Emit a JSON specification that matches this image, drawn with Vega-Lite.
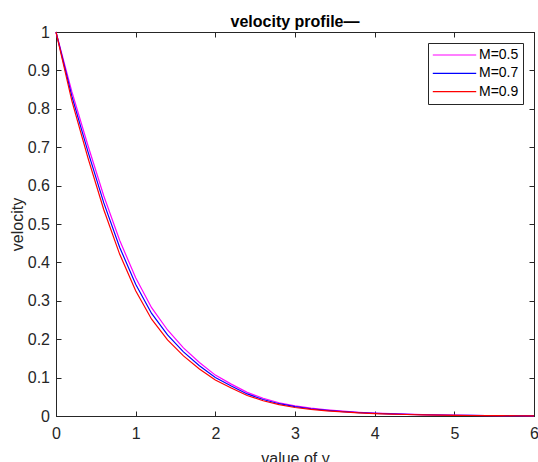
{
  "$schema": "https://vega.github.io/schema/vega-lite/v6.json",
  "width": 478,
  "height": 384,
  "autosize": {"type": "none"},
  "padding": {"left": 56, "top": 32, "right": 4, "bottom": 46},
  "background": "white",
  "config": {
    "font": "Liberation Sans",
    "view": {"stroke": "#262626", "strokeWidth": 1}
  },
  "title": {
    "text": "velocity profile—",
    "fontSize": 16,
    "fontWeight": "bold",
    "color": "#000000",
    "anchor": "middle",
    "baseline": "bottom",
    "offset": 2,
    "dy": 24
  },
  "data": {
    "values": [
      {"yval": 0.0, "velocity": 1.0, "series": "M=0.5"},
      {"yval": 0.2, "velocity": 0.844, "series": "M=0.5"},
      {"yval": 0.4, "velocity": 0.705, "series": "M=0.5"},
      {"yval": 0.6, "velocity": 0.573, "series": "M=0.5"},
      {"yval": 0.8, "velocity": 0.457, "series": "M=0.5"},
      {"yval": 1.0, "velocity": 0.36, "series": "M=0.5"},
      {"yval": 1.2, "velocity": 0.282, "series": "M=0.5"},
      {"yval": 1.4, "velocity": 0.224, "series": "M=0.5"},
      {"yval": 1.6, "velocity": 0.1775, "series": "M=0.5"},
      {"yval": 1.8, "velocity": 0.1395, "series": "M=0.5"},
      {"yval": 2.0, "velocity": 0.1065, "series": "M=0.5"},
      {"yval": 2.2, "velocity": 0.083, "series": "M=0.5"},
      {"yval": 2.4, "velocity": 0.0615, "series": "M=0.5"},
      {"yval": 2.6, "velocity": 0.0462, "series": "M=0.5"},
      {"yval": 2.8, "velocity": 0.0345, "series": "M=0.5"},
      {"yval": 3.0, "velocity": 0.0262, "series": "M=0.5"},
      {"yval": 3.2, "velocity": 0.0205, "series": "M=0.5"},
      {"yval": 3.4, "velocity": 0.0161, "series": "M=0.5"},
      {"yval": 3.6, "velocity": 0.0126, "series": "M=0.5"},
      {"yval": 3.8, "velocity": 0.0098, "series": "M=0.5"},
      {"yval": 4.0, "velocity": 0.0076, "series": "M=0.5"},
      {"yval": 4.2, "velocity": 0.006, "series": "M=0.5"},
      {"yval": 4.4, "velocity": 0.0047, "series": "M=0.5"},
      {"yval": 4.6, "velocity": 0.0036, "series": "M=0.5"},
      {"yval": 4.8, "velocity": 0.0029, "series": "M=0.5"},
      {"yval": 5.0, "velocity": 0.0022, "series": "M=0.5"},
      {"yval": 5.2, "velocity": 0.0017, "series": "M=0.5"},
      {"yval": 5.4, "velocity": 0.0013, "series": "M=0.5"},
      {"yval": 5.6, "velocity": 0.001, "series": "M=0.5"},
      {"yval": 5.8, "velocity": 0.0008, "series": "M=0.5"},
      {"yval": 6.0, "velocity": 0.0005, "series": "M=0.5"},
      {"yval": 0.0, "velocity": 1.0, "series": "M=0.7"},
      {"yval": 0.2, "velocity": 0.832, "series": "M=0.7"},
      {"yval": 0.4, "velocity": 0.689, "series": "M=0.7"},
      {"yval": 0.6, "velocity": 0.555, "series": "M=0.7"},
      {"yval": 0.8, "velocity": 0.439, "series": "M=0.7"},
      {"yval": 1.0, "velocity": 0.343, "series": "M=0.7"},
      {"yval": 1.2, "velocity": 0.267, "series": "M=0.7"},
      {"yval": 1.4, "velocity": 0.211, "series": "M=0.7"},
      {"yval": 1.6, "velocity": 0.167, "series": "M=0.7"},
      {"yval": 1.8, "velocity": 0.131, "series": "M=0.7"},
      {"yval": 2.0, "velocity": 0.1, "series": "M=0.7"},
      {"yval": 2.2, "velocity": 0.078, "series": "M=0.7"},
      {"yval": 2.4, "velocity": 0.0575, "series": "M=0.7"},
      {"yval": 2.6, "velocity": 0.043, "series": "M=0.7"},
      {"yval": 2.8, "velocity": 0.032, "series": "M=0.7"},
      {"yval": 3.0, "velocity": 0.0242, "series": "M=0.7"},
      {"yval": 3.2, "velocity": 0.0189, "series": "M=0.7"},
      {"yval": 3.4, "velocity": 0.0148, "series": "M=0.7"},
      {"yval": 3.6, "velocity": 0.0116, "series": "M=0.7"},
      {"yval": 3.8, "velocity": 0.009, "series": "M=0.7"},
      {"yval": 4.0, "velocity": 0.007, "series": "M=0.7"},
      {"yval": 4.2, "velocity": 0.0055, "series": "M=0.7"},
      {"yval": 4.4, "velocity": 0.0043, "series": "M=0.7"},
      {"yval": 4.6, "velocity": 0.0033, "series": "M=0.7"},
      {"yval": 4.8, "velocity": 0.0026, "series": "M=0.7"},
      {"yval": 5.0, "velocity": 0.002, "series": "M=0.7"},
      {"yval": 5.2, "velocity": 0.0015, "series": "M=0.7"},
      {"yval": 5.4, "velocity": 0.0012, "series": "M=0.7"},
      {"yval": 5.6, "velocity": 0.0009, "series": "M=0.7"},
      {"yval": 5.8, "velocity": 0.0007, "series": "M=0.7"},
      {"yval": 6.0, "velocity": 0.0005, "series": "M=0.7"},
      {"yval": 0.0, "velocity": 1.0, "series": "M=0.9"},
      {"yval": 0.2, "velocity": 0.82, "series": "M=0.9"},
      {"yval": 0.4, "velocity": 0.673, "series": "M=0.9"},
      {"yval": 0.6, "velocity": 0.537, "series": "M=0.9"},
      {"yval": 0.8, "velocity": 0.421, "series": "M=0.9"},
      {"yval": 1.0, "velocity": 0.326, "series": "M=0.9"},
      {"yval": 1.2, "velocity": 0.252, "series": "M=0.9"},
      {"yval": 1.4, "velocity": 0.198, "series": "M=0.9"},
      {"yval": 1.6, "velocity": 0.1565, "series": "M=0.9"},
      {"yval": 1.8, "velocity": 0.1225, "series": "M=0.9"},
      {"yval": 2.0, "velocity": 0.0935, "series": "M=0.9"},
      {"yval": 2.2, "velocity": 0.073, "series": "M=0.9"},
      {"yval": 2.4, "velocity": 0.0535, "series": "M=0.9"},
      {"yval": 2.6, "velocity": 0.0398, "series": "M=0.9"},
      {"yval": 2.8, "velocity": 0.0295, "series": "M=0.9"},
      {"yval": 3.0, "velocity": 0.0222, "series": "M=0.9"},
      {"yval": 3.2, "velocity": 0.0173, "series": "M=0.9"},
      {"yval": 3.4, "velocity": 0.0135, "series": "M=0.9"},
      {"yval": 3.6, "velocity": 0.0106, "series": "M=0.9"},
      {"yval": 3.8, "velocity": 0.0082, "series": "M=0.9"},
      {"yval": 4.0, "velocity": 0.0064, "series": "M=0.9"},
      {"yval": 4.2, "velocity": 0.005, "series": "M=0.9"},
      {"yval": 4.4, "velocity": 0.0039, "series": "M=0.9"},
      {"yval": 4.6, "velocity": 0.003, "series": "M=0.9"},
      {"yval": 4.8, "velocity": 0.0023, "series": "M=0.9"},
      {"yval": 5.0, "velocity": 0.0018, "series": "M=0.9"},
      {"yval": 5.2, "velocity": 0.0013, "series": "M=0.9"},
      {"yval": 5.4, "velocity": 0.0011, "series": "M=0.9"},
      {"yval": 5.6, "velocity": 0.0008, "series": "M=0.9"},
      {"yval": 5.8, "velocity": 0.0006, "series": "M=0.9"},
      {"yval": 6.0, "velocity": 0.0005, "series": "M=0.9"}
    ]
  },
  "layer": [
    {
      "mark": {"type": "line", "strokeWidth": 1.2},
      "encoding": {
        "x": {
          "field": "yval",
          "type": "quantitative",
          "scale": {"domain": [0, 6], "nice": false, "zero": false},
          "axis": {
            "orient": "bottom",
            "values": [0, 1, 2, 3, 4, 5, 6],
            "format": "d",
            "grid": false,
            "tickSize": -5,
            "tickColor": "#262626",
            "domainColor": "#262626",
            "labelFontSize": 16,
            "labelColor": "#262626",
            "labelPadding": 14.6,
            "labelFlush": false,
            "title": "value of y",
            "titleFontSize": 16,
            "titleFontWeight": "normal",
            "titleColor": "#262626",
            "titlePadding": 9
          }
        },
        "y": {
          "field": "velocity",
          "type": "quantitative",
          "scale": {"domain": [0, 1], "nice": false, "zero": false},
          "axis": {
            "orient": "left",
            "values": [0, 0.1, 0.2, 0.3, 0.4, 0.5, 0.6, 0.7, 0.8, 0.9, 1],
            "format": "~g",
            "grid": false,
            "tickSize": -5,
            "tickColor": "#262626",
            "domainColor": "#262626",
            "labelFontSize": 16,
            "labelColor": "#262626",
            "labelPadding": 11.5,
            "labelFlush": false,
            "title": "velocity",
            "titleFontSize": 16,
            "titleFontWeight": "normal",
            "titleColor": "#262626",
            "titlePadding": 2
          }
        },
        "color": {
          "field": "series",
          "type": "nominal",
          "scale": {
            "domain": ["M=0.5", "M=0.7", "M=0.9"],
            "range": ["#FF00FF", "#0000FF", "#FF0000"]
          },
          "legend": {
            "title": null,
            "orient": "top-right",
            "offset": 11,
            "symbolType": "stroke",
            "symbolSize": 1884,
            "symbolStrokeWidth": 1.2,
            "clipHeight": 16,
            "rowPadding": 2.3,
            "padding": 4,
            "labelOffset": 2,
            "labelFontSize": 14,
            "labelColor": "#000000",
            "strokeColor": "#262626",
            "fillColor": "#FFFFFF"
          }
        }
      }
    },
    {
      "mark": {"type": "line", "opacity": 0},
      "encoding": {
        "x": {
          "field": "yval",
          "type": "quantitative",
          "axis": {
            "orient": "top",
            "values": [0, 1, 2, 3, 4, 5, 6],
            "labels": false,
            "title": null,
            "grid": false,
            "tickSize": -5,
            "tickColor": "#262626",
            "domainColor": "#262626"
          }
        },
        "y": {
          "field": "velocity",
          "type": "quantitative",
          "axis": {
            "orient": "right",
            "values": [0, 0.1, 0.2, 0.3, 0.4, 0.5, 0.6, 0.7, 0.8, 0.9, 1],
            "labels": false,
            "title": null,
            "grid": false,
            "tickSize": -5,
            "tickColor": "#262626",
            "domainColor": "#262626"
          }
        },
        "detail": {"field": "series", "type": "nominal"}
      }
    }
  ],
  "resolve": {"axis": {"x": "independent", "y": "independent"}}
}
